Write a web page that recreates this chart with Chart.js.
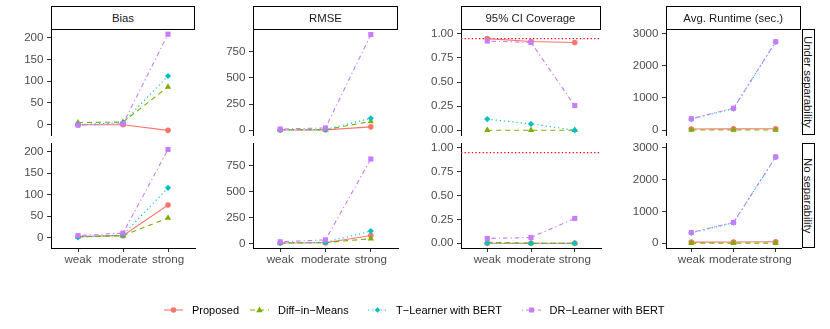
<!DOCTYPE html>
<html>
<head>
<meta charset="utf-8">
<script src="https://cdn.jsdelivr.net/npm/chart.js@4.4.1/dist/chart.umd.min.js"></script>
<style>
  body { margin: 0; background: #fff; }
  #wrap { position: relative; width: 830px; height: 329px; overflow: hidden; background: #fff;
          font-family: "Liberation Sans", Arial, sans-serif; }
  canvas { position: absolute; }
  .strip { position: absolute; box-sizing: border-box; border: 1.3px solid #000; background: #fff;
           color: #1a1a1a; font-size: 11.4px; display: flex; align-items: center; justify-content: center; }
  .strip.side { writing-mode: vertical-rl; }
  .legend-item { position: absolute; top: 302px; height: 16px; display: flex; align-items: center;
                 font-size: 11px; color: #000; white-space: nowrap; }
  .legend-item svg { margin-right: 9px; }
</style>
</head>
<body>
<div id="wrap"></div>
<script>
// ===== DATA =====
const categories = ['weak', 'moderate', 'strong'];
const methods = ['Proposed', 'Diff\u2212in\u2212Means', 'T\u2212Learner with BERT', 'DR\u2212Learner with BERT'];
const metrics = ['Bias', 'RMSE', '95% CI Coverage', 'Avg. Runtime (sec.)'];
const settings = ['Under separability', 'No separability'];

// series order: Proposed, Diff-in-Means, T-Learner, DR-Learner
const biasUnder = [[0, 0, -13], [5, 6, 87], [0, 5, 112], [-1, 2, 208]];
const biasNo = [[3, 5, 76], [2, 5, 46], [1, 7, 116], [5, 11, 205]];
const rmseUnder = [[3, 4, 33], [5, 6, 85], [3, 8, 115], [12, 22, 914]];
const rmseNo = [[3, 5, 75], [3, 7, 45], [3, 10, 118], [15, 33, 813]];
const coverageUnder = [[0.95, 0.92, 0.91], [0, 0, 0], [0.115, 0.065, 0], [0.925, 0.91, 0.255]];
const coverageNo = [[0, 0, 0], [0.01, 0, 0], [0, 0, 0], [0.05, 0.06, 0.26]];
const runtimeUnder = [[35, 40, 45], [3, 3, 3], [345, 670, 2740], [355, 680, 2745]];
const runtimeNo = [[35, 40, 45], [3, 3, 3], [325, 645, 2700], [335, 650, 2705]];
const coverageTarget = 0.95;

const biasTicks = [0, 50, 100, 150, 200];
const rmseTicks = [0, 250, 500, 750];
const coverageTicks = [0, 0.25, 0.5, 0.75, 1];
const runtimeTicks = [0, 1000, 2000, 3000];

const biasRange = [-23.7, 220];
const rmseRange = [-45, 967];
const coverageRange = [-0.05, 1.05];
const runtimeRange = [-150, 3140];

// ===== STYLE =====
const colors = ['#F8766D', '#7CAE00', '#00BFC4', '#C77CFF'];
const pointStyles = ['circle', 'triangle', 'rectRot', 'rect'];
const pointSizes = [2.8, 3.6, 3.1, 3.6];
const dashes = [[], [5, 4], [1.2, 3], [1.2, 3, 4.5, 3]];

// panel geometry (ggplot layout)
const colLeft = [51, 253, 460.5, 665.5];
const colWidth = [144, 145, 140, 135.5];
const rowTop = [29, 143];
const rowHeight = [106, 105];
const Y_W = 44, PAD = 14, X_H = 24, PAD_R = 6;

Chart.defaults.font.family = '"Liberation Sans", Arial, sans-serif';
Chart.defaults.font.size = 11.6;

const wrap = document.getElementById('wrap');

function makePanel(col, row, series, range, ticks, fmt, refLine) {
    const showX = row === 1;
    const canvas = document.createElement('canvas');
    const w = Y_W + colWidth[col] + PAD_R;
    const h = PAD + rowHeight[row] + (showX ? X_H : PAD);
    canvas.width = w;
    canvas.height = h;
    canvas.style.left = (colLeft[col] - Y_W) + 'px';
    canvas.style.top = (rowTop[row] - PAD) + 'px';
    canvas.style.width = w + 'px';
    canvas.style.height = h + 'px';
    wrap.appendChild(canvas);

    const datasets = series.map((vals, i) => ({
        label: methods[i],
        data: vals.map((v, j) => ({ x: j, y: v })),
        borderColor: colors[i],
        backgroundColor: colors[i],
        borderWidth: 1.1,
        borderDash: dashes[i],
        pointStyle: pointStyles[i],
        pointRadius: pointSizes[i],
        pointBorderWidth: 0,
        tension: 0,
        order: series.length - 1 - i
    }));
    if (refLine !== undefined) {
        datasets.push({
            label: 'target',
            data: [{ x: -0.6, y: refLine }, { x: 2.6, y: refLine }],
            borderColor: '#FF0000',
            borderWidth: 1.3,
            borderDash: [1.3, 2.3],
            pointRadius: 0,
            order: 10
        });
    }

    new Chart(canvas.getContext('2d'), {
        type: 'line',
        data: { datasets },
        options: {
            responsive: false,
            animation: false,
            devicePixelRatio: 1,
            layout: { padding: { top: PAD, bottom: showX ? 0 : PAD, left: 0, right: PAD_R } },
            plugins: { legend: { display: false }, tooltip: { enabled: false } },
            scales: {
                x: {
                    type: 'linear',
                    min: -0.6,
                    max: 2.6,
                    display: showX,
                    afterBuildTicks: s => { s.ticks = categories.map((c, i) => ({ value: i })); },
                    afterFit: s => { s.height = showX ? X_H : 0; },
                    ticks: {
                        callback: v => categories[v],
                        autoSkip: false,
                        maxRotation: 0,
                        color: '#4D4D4D',
                        padding: 1
                    },
                    grid: { drawOnChartArea: false, drawTicks: true, tickLength: 4, color: '#333333' },
                    border: { display: true, color: '#000', width: 1 }
                },
                y: {
                    type: 'linear',
                    min: range[0],
                    max: range[1],
                    afterBuildTicks: s => { s.ticks = ticks.map(v => ({ value: v })); },
                    afterFit: s => { s.width = Y_W; },
                    ticks: { callback: fmt, color: '#4D4D4D', padding: 3.5 },
                    grid: { drawOnChartArea: false, drawTicks: true, tickLength: 4, color: '#333333' },
                    border: { display: true, color: '#000', width: 1 }
                }
            }
        }
    });
}

const intFmt = v => String(v);
const covFmt = v => v.toFixed(2);

makePanel(0, 0, biasUnder, biasRange, biasTicks, intFmt);
makePanel(0, 1, biasNo, biasRange, biasTicks, intFmt);
makePanel(1, 0, rmseUnder, rmseRange, rmseTicks, intFmt);
makePanel(1, 1, rmseNo, rmseRange, rmseTicks, intFmt);
makePanel(2, 0, coverageUnder, coverageRange, coverageTicks, covFmt, coverageTarget);
makePanel(2, 1, coverageNo, coverageRange, coverageTicks, covFmt, coverageTarget);
makePanel(3, 0, runtimeUnder, runtimeRange, runtimeTicks, intFmt);
makePanel(3, 1, runtimeNo, runtimeRange, runtimeTicks, intFmt);

// ===== STRIPS =====
metrics.forEach((m, i) => {
    const d = document.createElement('div');
    d.className = 'strip';
    d.style.left = colLeft[i] + 'px';
    d.style.top = '6px';
    d.style.width = colWidth[i] + 'px';
    d.style.height = '23.5px';
    d.textContent = m;
    wrap.appendChild(d);
});
settings.forEach((s, r) => {
    const d = document.createElement('div');
    d.className = 'strip side';
    d.style.left = '801.5px';
    d.style.top = rowTop[r] + 'px';
    d.style.width = '13px';
    d.style.height = rowHeight[r] + 'px';
    d.textContent = s;
    wrap.appendChild(d);
});

// ===== LEGEND =====
const legendLeft = [164, 250, 368, 521.5];

function keySvg(i) {
    const c = colors[i];
    let marker;
    if (pointStyles[i] === 'circle') marker = `<circle cx="9.5" cy="8" r="2.8" fill="${c}"/>`;
    else if (pointStyles[i] === 'triangle') marker = `<polygon points="9.5,4.6 12.8,10.2 6.2,10.2" fill="${c}"/>`;
    else if (pointStyles[i] === 'rectRot') marker = `<polygon points="9.5,5.2 12.3,8 9.5,10.8 6.7,8" fill="${c}"/>`;
    else marker = `<rect x="7" y="5.5" width="5" height="5" fill="${c}"/>`;
    const dash = dashes[i].length ? `stroke-dasharray="${dashes[i].join(' ')}"` : '';
    return `<svg width="19" height="16"><line x1="0" y1="8" x2="19" y2="8" stroke="${c}" stroke-width="1.1" ${dash}/>${marker}</svg>`;
}

methods.forEach((m, i) => {
    const d = document.createElement('div');
    d.className = 'legend-item';
    d.style.left = legendLeft[i] + 'px';
    d.innerHTML = keySvg(i) + '<span>' + m + '</span>';
    wrap.appendChild(d);
});
</script>
</body>
</html>
